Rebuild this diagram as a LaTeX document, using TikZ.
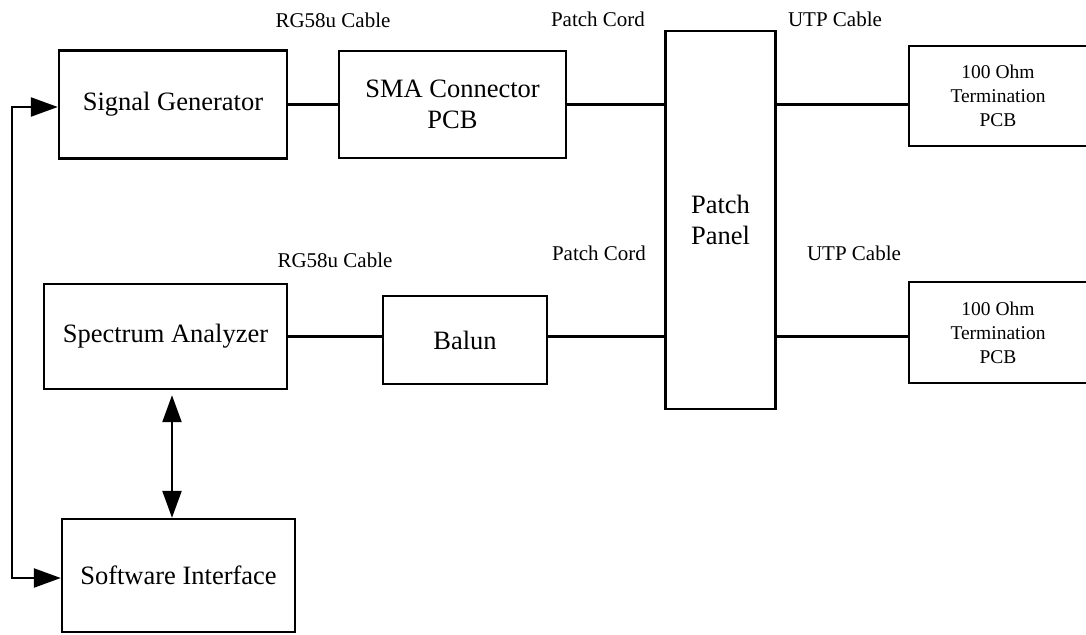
\documentclass[tikz,border=0pt]{standalone}
\usepackage{fontspec}
\setmainfont{Liberation Serif}
\usetikzlibrary{arrows.meta}
\tikzset{
  blk/.style={draw, line width=2.4pt, rectangle, inner sep=0pt, align=center, font=\fontsize{26.5}{31}\selectfont},
  smallblk/.style={blk, font=\fontsize{19.5}{24}\selectfont},
  lbl/.style={inner sep=0pt, font=\fontsize{21}{24}\selectfont},
  wire/.style={line width=2.4pt},
  arr/.style={line width=2.4pt, -{Triangle[length=27pt,width=19pt]}},
  darr/.style={line width=2.4pt, {Triangle[length=27pt,width=19pt]}-{Triangle[length=27pt,width=19pt]}}
}
\begin{document}
\begin{tikzpicture}[x=1pt,y=-1pt]
\useasboundingbox (0,0) rectangle (1086,634);
% blocks
\node[blk, minimum width=228pt, minimum height=108pt] (sg) at (173,104.5) {Signal Generator};
\node[blk, minimum width=227pt, minimum height=107pt] (sma) at (452.5,104.5) {SMA Connector\\PCB};
\node[blk, minimum width=110pt, minimum height=378pt] (pp) at (720.5,220) {Patch\\Panel};
\node[smallblk, minimum width=178pt, minimum height=100pt] (t1) at (998,96) {100 Ohm\\Termination\\PCB};
\node[smallblk, minimum width=178pt, minimum height=101pt] (t2) at (998,332.5) {100 Ohm\\Termination\\PCB};
\node[blk, minimum width=243pt, minimum height=105pt] (sa) at (165.5,336.5) {Spectrum Analyzer};
\node[blk, minimum width=164pt, minimum height=88pt] (bal) at (465,340) {Balun};
\node[blk, minimum width=233pt, minimum height=113pt] (si) at (178.5,575.5) {Software Interface};
% labels
\node[lbl] (l1) at (333,20) {RG58u Cable};
\node[lbl] (l2) at (598,19) {Patch Cord};
\node[lbl] (l3) at (835,19) {UTP Cable};
\node[lbl] (l4) at (335,260) {RG58u Cable};
\node[lbl] (l5) at (599,253) {Patch Cord};
\node[lbl] (l6) at (854,253) {UTP Cable};
% wires top row
\draw[wire] (sg.east) -- (sma.west |- sg.east);
\draw[wire] (sma.east) -- (pp.west |- sma.east);
\draw[wire] (pp.east |- sma.east) -- (t1.west |- sma.east);
% wires bottom row
\draw[wire] (sa.east) -- (bal.west |- sa.east);
\draw[wire] (bal.east |- sa.east) -- (pp.west |- sa.east);
\draw[wire] (pp.east |- sa.east) -- (t2.west |- sa.east);
% feedback loop
\coordinate (c1) at (12,107);
\coordinate (c2) at (12,578);
\draw[arr] (c2) -- (c1) -- (sg.west |- c1);
\draw[arr] (c1) -- (c2) -- (si.west |- c2);
% double arrow
\draw[darr] (sa.south -| 172,0) ++(0,5) -- (si.north -| 172,0);
\end{tikzpicture}
\end{document}
